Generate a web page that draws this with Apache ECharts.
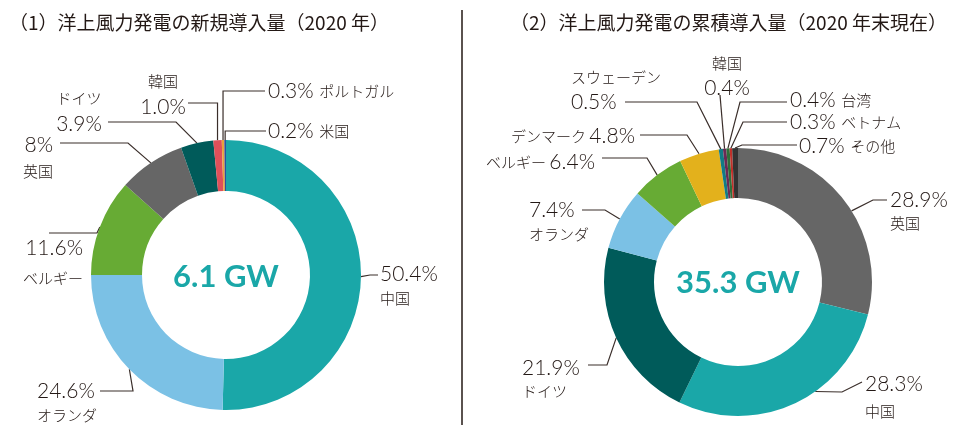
<!DOCTYPE html>
<html>
<head>
<meta charset="utf-8">
<script src="https://cdn.jsdelivr.net/npm/echarts@6/dist/echarts.min.js"></script>
<style>html,body{margin:0;padding:0;background:#fff;}#c{width:960px;height:433px;}</style>
</head>
<body>
<div id="c"></div>
<script>
// ---- data ----
const leftTitle = '（1）洋上風力発電の新規導入量（2020 年）';
const rightTitle = '（2）洋上風力発電の累積導入量（2020 年末現在）';
const leftTotal = '6.1 GW';
const rightTotal = '35.3 GW';

const leftNames = ['中国', 'オランダ', 'ベルギー', '英国', 'ドイツ', '韓国', 'ポルトガル', '米国'];
const leftValues = [50.4, 24.6, 11.6, 8, 3.9, 1.0, 0.3, 0.2];
const leftPct = ['50.4%', '24.6%', '11.6%', '8%', '3.9%', '1.0%', '0.3%', '0.2%'];

const rightNames = ['英国', '中国', 'ドイツ', 'オランダ', 'ベルギー', 'デンマーク', 'スウェーデン', '韓国', '台湾', 'ベトナム', 'その他'];
const rightValues = [28.9, 28.3, 21.9, 7.4, 6.4, 4.8, 0.5, 0.4, 0.4, 0.3, 0.7];
const rightPct = ['28.9%', '28.3%', '21.9%', '7.4%', '6.4%', '4.8%', '0.5%', '0.4%', '0.4%', '0.3%', '0.7%'];

// ---- styles ----
const colorsL = ['#1aa7a8', '#7bc1e5', '#67ab34', '#666666', '#005b5a', '#e0505a', '#e8a33c', '#2f4f9f'];
const colorsR = ['#666666', '#1aa7a8', '#005b5a', '#7bc1e5', '#67ab34', '#e3b11c', '#127c84', '#6b2a55', '#2f6f3a', '#c0302a', '#333333'];
const TXT = '#231815';
const LINE = '#3a2e2a';
const CJK = '"Noto Sans CJK JP", "Noto Sans", sans-serif';
const NUM = 'Lato, "Noto Sans", sans-serif';

const geom = [
  { cx: 226, cy: 275, r0: 84, r1: 135 },
  { cx: 738, cy: 282, r0: 84, r1: 134 }
];

// label layout: x, y (centre of the percent line), align, fmt, gap, elbow, end, at
const layL = [
  { x: 380, y: 274, align: 'left', fmt: 'pn', gap: 24, elbow: [370, 275], end: [378, 275] },
  { x: 37, y: 391, align: 'left', fmt: 'pn', gap: 24, elbow: [133, 391], end: [100, 391] },
  { x: 83, y: 248, align: 'right', fmt: 'pn', gap: 30, elbow: [97, 233], end: [49, 233] },
  { x: 53, y: 145, align: 'right', fmt: 'pn', gap: 26, elbow: [128, 143], end: [60, 143] },
  { x: 79, y: 124, align: 'center', fmt: 'np', gap: 26, elbow: [176, 122], end: [108, 122] },
  { x: 163, y: 107, align: 'center', fmt: 'np', gap: 26, elbow: [null, 103], end: [188, 103] },
  { x: 268, y: 91, align: 'left', fmt: 'p n', elbow: [null, 91], end: [265, 91] },
  { x: 268, y: 131, align: 'left', fmt: 'p n', elbow: [null, 131], end: [266, 131] }
];
const layR = [
  { x: 890, y: 200, align: 'left', fmt: 'pn', gap: 23, at: 0.557, elbow: [873, 200], end: [887, 200] },
  { x: 865, y: 384, align: 'left', fmt: 'pn', gap: 27, at: 0.40, elbow: [842, 392], end: [862, 382] },
  { x: 522, y: 368, align: 'left', fmt: 'pn', gap: 23, elbow: [607, 365], end: [588, 365] },
  { x: 529, y: 210, align: 'left', fmt: 'pn', gap: 24, elbow: [605, 210], end: [582, 210] },
  { x: 595, y: 162, align: 'right', fmt: 'n p', elbow: [647, 158], end: [602, 158] },
  { x: 635, y: 136, align: 'right', fmt: 'n p', elbow: [687, 135], end: [640, 135] },
  { x: 571, y: 102, align: 'left', fmt: 'np', gap: 25, elbow: [697, 102], end: [625, 102] },
  { x: 727, y: 88, align: 'center', fmt: 'np', gap: 25, elbow: null, end: [720, 95] },
  { x: 790, y: 100, align: 'left', fmt: 'p n', elbow: [740, 102], end: [787, 102] },
  { x: 790, y: 122, align: 'left', fmt: 'p n', elbow: [743, 122], end: [787, 122] },
  { x: 799, y: 146, align: 'left', fmt: 'p n', elbow: [742, 145], end: [797, 145] }
];
const layouts = [layL, layR];
const valuesAll = [leftValues, rightValues];

const NAME_FS = 15;
const rich = {
  p: { fontFamily: NUM, fontWeight: 300, fontSize: 21, lineHeight: 24, color: TXT },
  n: { fontFamily: CJK, fontWeight: 300, fontSize: NAME_FS, lineHeight: 24, color: TXT }
};
function nameLH(gap) { return Math.max(16, 2 * (gap - 12)); }
function ensureRich(lh) {
  const k = 'n' + lh;
  if (!rich[k]) rich[k] = { fontFamily: CJK, fontWeight: 300, fontSize: NAME_FS, lineHeight: lh, color: TXT };
  return k;
}
function fmtText(name, pct, L) {
  if (L.fmt === 'p n') return '{p|' + pct + ' }{n|' + name + '}';
  if (L.fmt === 'n p') return '{n|' + name + ' }{p|' + pct + '}';
  const k = ensureRich(nameLH(L.gap));
  if (L.fmt === 'pn') return '{p|' + pct + '}\n{' + k + '|' + name + '}';
  return '{' + k + '|' + name + '}\n{p|' + pct + '}';
}
function labelTop(L) {
  if (L.fmt === 'pn' || L.fmt === 'p n' || L.fmt === 'n p') return L.y - 12;
  return L.y - 12 - nameLH(L.gap);
}
function startPoint(si, di) {
  const vals = valuesAll[si];
  const total = vals.reduce((a, b) => a + b, 0);
  let cum = 0;
  for (let i = 0; i < di; i++) cum += vals[i];
  const at = layouts[si][di].at != null ? layouts[si][di].at : 0.5;
  const f = (cum + vals[di] * at) / total;
  const th = f * Math.PI * 2;
  const g = geom[si];
  return [g.cx + g.r1 * Math.sin(th), g.cy - g.r1 * Math.cos(th)];
}

function buildData(names, values, pct, colors, lay) {
  return names.map((n, i) => ({
    name: n,
    value: values[i],
    itemStyle: { color: colors[i] },
    label: { formatter: fmtText(n, pct[i], lay[i]), align: lay[i].align }
  }));
}

function pieSeries(si, names, values, pct, colors) {
  const g = geom[si];
  return {
    type: 'pie',
    center: [g.cx, g.cy],
    radius: [g.r0, g.r1],
    startAngle: 90,
    clockwise: true,
    avoidLabelOverlap: false,
    silent: true,
    animation: false,
    data: buildData(names, values, pct, colors, layouts[si]),
    label: { show: true, position: 'outside', rich: rich, color: TXT, fontWeight: 'normal' },
    labelLine: { show: true, length: 10, length2: 10, smooth: false, lineStyle: { color: LINE, width: 1.2 } },
    labelLayout: function (p) {
      const L = layouts[si][p.dataIndex];
      const s = startPoint(si, p.dataIndex);
      let m;
      if (!L.elbow) m = s.slice();
      else m = [L.elbow[0] == null ? s[0] : L.elbow[0], L.elbow[1]];
      return {
        x: L.x, y: labelTop(L), align: L.align, verticalAlign: 'top',
        labelLinePoints: [s, m, L.end.slice()]
      };
    }
  };
}

const chart = echarts.init(document.getElementById('c'), null, { renderer: 'canvas' });
chart.setOption({
  backgroundColor: '#fff',
  animation: false,
  title: [
    { text: leftTitle, left: 4, top: 8, textStyle: { fontFamily: CJK, fontSize: 19, fontWeight: 'normal', color: TXT } },
    { text: rightTitle, left: 505, top: 8, textStyle: { fontFamily: CJK, fontSize: 19, fontWeight: 'normal', color: TXT } }
  ],
  graphic: [
    { type: 'line', shape: { x1: 462, y1: 10, x2: 462, y2: 425 }, style: { stroke: TXT, lineWidth: 1.5 } },
    { type: 'text', x: geom[0].cx, y: geom[0].cy + 2, style: { text: leftTotal, align: 'center', verticalAlign: 'middle', font: 'bold 31px Lato, sans-serif', fill: '#1aa7a8' } },
    { type: 'text', x: geom[1].cx, y: geom[1].cy + 1, style: { text: rightTotal, align: 'center', verticalAlign: 'middle', font: 'bold 31px Lato, sans-serif', fill: '#1aa7a8' } }
  ],
  series: [
    pieSeries(0, leftNames, leftValues, leftPct, colorsL),
    pieSeries(1, rightNames, rightValues, rightPct, colorsR)
  ]
});
</script>
</body>
</html>
